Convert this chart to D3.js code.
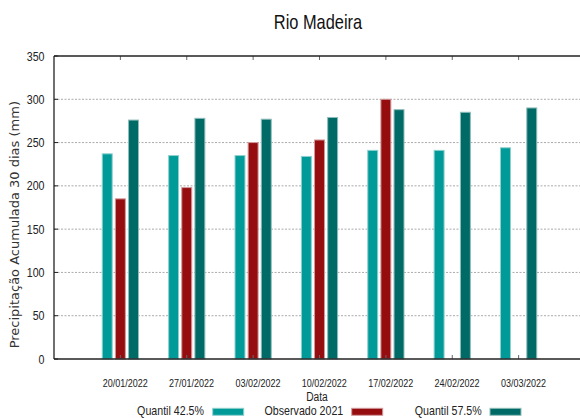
<!DOCTYPE html>
<html>
<head>
<meta charset="utf-8">
<script src="https://cdn.jsdelivr.net/npm/d3@7"></script>
<style>
  body { margin: 0; background: #fff; }
  svg { display: block; }
  .narrow { font-family: "Liberation Sans", Arial, sans-serif; }
</style>
</head>
<body>
<svg id="chart" width="580" height="418"></svg>
<script>
const categories = ["20/01/2022","27/01/2022","03/02/2022","10/02/2022","17/02/2022","24/02/2022","03/03/2022"];
const seriesNames = ["Quantil 42.5%","Observado 2021","Quantil 57.5%"];
const quantil425 = [237, 235, 235, 234, 241, 241, 244];
const observado2021 = [185, 198, 250, 253, 300, null, null];
const quantil575 = [276, 278, 277, 279, 288, 285, 290];
const yTicks = [0, 50, 100, 150, 200, 250, 300, 350];

const colors = ["#009a98", "#960d10", "#006a66"];
const borders = ["#8fd0cf", "#d09a9b", "#8fbdbb"];
const series = [quantil425, observado2021, quantil575];

const svg = d3.select("#chart");
const x = d3.scaleLinear().domain([0, categories.length + 1]).range([54, 585]);
const y = d3.scaleLinear().domain([0, 350]).range([359, 56]);

// condensed text (emulates Arial Narrow)
function narrowText(parent, tx, ty, anchor, size, txt, fill) {
  const g = parent.append("g").attr("transform", `translate(${tx},${ty}) scale(0.82,1)`);
  g.append("text").attr("class", "narrow")
    .attr("text-anchor", anchor).attr("font-size", size).attr("fill", fill || "#222")
    .text(txt);
  return g;
}

// gridlines
svg.append("g").selectAll("line").data(yTicks.filter(d => d > 0 && d < 350)).join("line")
  .attr("x1", 54).attr("x2", 580)
  .attr("y1", d => y(d)).attr("y2", d => y(d))
  .attr("stroke", "#aaaaaa").attr("stroke-width", 1).attr("stroke-dasharray", "2,1.5");

// bars
const offsets = [-0.198, 0, 0.198];
const bw = 0.15;
series.forEach((vals, si) => {
  svg.append("g").selectAll("rect").data(vals.map((v, i) => ({v, i})).filter(d => d.v != null)).join("rect")
    .attr("x", d => x(d.i + 1 + offsets[si] - bw / 2))
    .attr("width", x(bw) - x(0))
    .attr("y", d => y(d.v))
    .attr("height", d => y(0) - y(d.v))
    .attr("fill", colors[si])
    .attr("stroke", borders[si]).attr("stroke-width", 1);
});

// x ticks (inward, bottom and top)
const xt = svg.append("g");
categories.forEach((c, i) => {
  xt.append("line").attr("x1", x(i + 1)).attr("x2", x(i + 1)).attr("y1", y(0)).attr("y2", y(0) - 4)
    .attr("stroke", "#666").attr("stroke-width", 1);
  xt.append("line").attr("x1", x(i + 1)).attr("x2", x(i + 1)).attr("y1", y(350)).attr("y2", y(350) + 4)
    .attr("stroke", "#666").attr("stroke-width", 1);
});

// axes lines
svg.append("line").attr("x1", 54).attr("x2", 580).attr("y1", y(0)).attr("y2", y(0)).attr("stroke", "#222").attr("stroke-width", 1.3);
svg.append("line").attr("x1", 54).attr("x2", 580).attr("y1", y(350)).attr("y2", y(350)).attr("stroke", "#222").attr("stroke-width", 1.3);
svg.append("line").attr("x1", 54).attr("x2", 54).attr("y1", y(0)).attr("y2", y(350)).attr("stroke", "#222").attr("stroke-width", 1.3);

// y ticks
svg.append("g").selectAll("line").data(yTicks).join("line")
  .attr("x1", 54).attr("x2", 58).attr("y1", d => y(d)).attr("y2", d => y(d))
  .attr("stroke", "#222");
const yl = svg.append("g");
yTicks.forEach(d => narrowText(yl, 44.5, y(d) + 4.6, "end", 13, d));

// x tick labels
const xl = svg.append("g");
categories.forEach((c, i) => narrowText(xl, x(i + 1) + 4.8, 386.7, "middle", 11, c));

// axis titles
narrowText(svg, 317, 400.5, "middle", 12.5, "Data");

svg.append("text")
  .attr("transform", "translate(19,224.7) rotate(-90)")
  .attr("text-anchor", "middle").attr("font-family", "DejaVu Sans, sans-serif")
  .attr("font-size", 13).attr("fill", "#333")
  .text("Precipitação Acumulada 30 dias (mm)");

// title
narrowText(svg, 318, 29, "middle", 20, "Rio Madeira", "#111");

// legend
const legTextEnd = [204, 343.3, 481.7];
const legSwatch = [212.7, 351.7, 490];
seriesNames.forEach((n, i) => {
  narrowText(svg, legTextEnd[i], 415, "end", 13, n);
  svg.append("rect").attr("x", legSwatch[i]).attr("y", 408.3).attr("width", 31).attr("height", 7)
    .attr("fill", colors[i]).attr("stroke", borders[i]).attr("stroke-width", 1);
});
</script>
</body>
</html>
